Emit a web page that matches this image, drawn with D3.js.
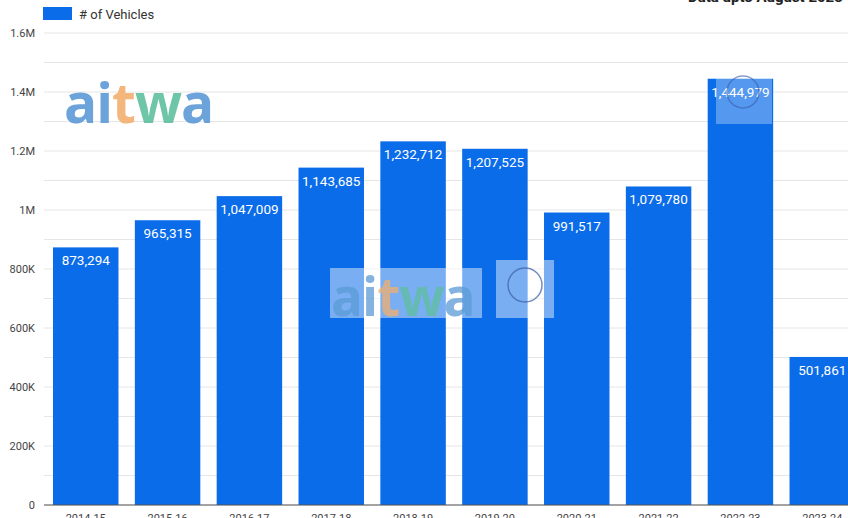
<!DOCTYPE html>
<html>
<head>
<meta charset="utf-8">
<script src="https://cdn.jsdelivr.net/npm/d3@7"></script>
<style>
  body { margin: 0; background: #fff; overflow: hidden; }
  text { font-family: Roboto, "Noto Sans", sans-serif; }
</style>
</head>
<body>
<div id="chart"></div>
<script>
const years = ["2014-15", "2015-16", "2016-17", "2017-18", "2018-19", "2019-20", "2020-21", "2021-22", "2022-23", "2023-24"];
const vehicles = [873294, 965315, 1047009, 1143685, 1232712, 1207525, 991517, 1079780, 1444979, 501861];
const yTicks = [0, 200000, 400000, 600000, 800000, 1000000, 1200000, 1400000, 1600000];
const yTickLabels = ["0", "200K", "400K", "600K", "800K", "1M", "1.2M", "1.4M", "1.6M"];

const W = 848, H = 518;
const margin = { top: 33, left: 44, bottom: 13 };
const plotRight = 864; // the chart is cropped on the right

const svg = d3.select("#chart").append("svg")
  .attr("width", W).attr("height", H);

const x = d3.scaleBand()
  .domain(years)
  .range([margin.left, plotRight])
  .paddingInner(0.2)
  .paddingOuter(0.11);

const y = d3.scaleLinear()
  .domain([0, 1600000])
  .range([H - margin.bottom, margin.top]);

// gridlines (every 100K)
const grid = d3.range(0, 1600001, 100000);
svg.append("g").selectAll("line")
  .data(grid).enter().append("line")
  .attr("x1", margin.left).attr("x2", W)
  .attr("y1", d => y(d)).attr("y2", d => y(d))
  .attr("stroke", "#e6e6e6").attr("stroke-width", 1);

// y axis labels
const yAxis = svg.append("g")
  .attr("transform", `translate(${margin.left},0)`)
  .call(d3.axisLeft(y).tickValues(yTicks).tickSize(0).tickPadding(9)
    .tickFormat((d, i) => yTickLabels[i]));
yAxis.select(".domain").remove();
yAxis.selectAll("text").attr("fill", "#444").style("font-size", "11px");

// bars
svg.append("g").selectAll("rect")
  .data(vehicles).enter().append("rect")
  .attr("x", (d, i) => x(years[i]))
  .attr("y", d => y(d))
  .attr("width", x.bandwidth())
  .attr("height", d => y(0) - y(d))
  .attr("fill", "#0b6ce9");

// value labels
svg.append("g").selectAll("text")
  .data(vehicles).enter().append("text")
  .attr("x", (d, i) => x(years[i]) + x.bandwidth() / 2)
  .attr("y", d => y(d) + 18)
  .attr("text-anchor", "middle")
  .attr("fill", "#fff")
  .style("font-size", "13.5px")
  .text(d => d3.format(",")(d));

// baseline
svg.append("line")
  .attr("x1", margin.left).attr("x2", W)
  .attr("y1", y(0)).attr("y2", y(0))
  .attr("stroke", "#555").attr("stroke-width", 1.2);

// x axis labels (cropped at bottom)
const xAxis = svg.append("g")
  .attr("transform", `translate(0,${y(0)})`)
  .call(d3.axisBottom(x).tickSize(0).tickPadding(9));
xAxis.select(".domain").remove();
xAxis.selectAll("text").attr("fill", "#444").style("font-size", "11px");

// legend
svg.append("rect").attr("x", 43).attr("y", 7).attr("width", 29).attr("height", 13).attr("fill", "#0b6ce9");
svg.append("text").attr("x", 79).attr("y", 19).attr("fill", "#333")
  .style("font-size", "13px").text("# of Vehicles");

// top-right note (cropped)
svg.append("text").attr("x", 688).attr("y", 2).attr("fill", "#222")
  .style("font-size", "15px").style("font-weight", "bold").text("Data upto August 2023");

// watermark helper
function aitwa(g, x0, yb, size, op) {
  const t = g.append("text").attr("x", x0).attr("y", yb)
    .style("font-size", size + "px").style("font-weight", "bold")
    .style("font-family", "'Open Sans', Roboto, sans-serif")
    .attr("opacity", op).attr("letter-spacing", -1);
  [["ai", "#5b9ad6"], ["t", "#f2b070"], ["w", "#5fbf9f"], ["a", "#5b9ad6"]].forEach(([s, c]) =>
    t.append("tspan").attr("fill", c).text(s));
  return t;
}
const wm = svg.append("g");
aitwa(wm, 64, 123, 55, 0.9);
wm.append("rect").attr("x", 330).attr("y", 268).attr("width", 152).attr("height", 50)
  .attr("fill", "#fff").attr("opacity", 0.45);
aitwa(wm, 331, 316, 53, 0.75);
wm.append("rect").attr("x", 496).attr("y", 260).attr("width", 58).attr("height", 58)
  .attr("fill", "#fff").attr("opacity", 0.45);
wm.append("circle").attr("cx", 525).attr("cy", 285).attr("r", 17)
  .attr("fill", "none").attr("stroke", "#3a5ea8").attr("stroke-width", 1.5).attr("opacity", 0.7);
wm.append("rect").attr("x", 716).attr("y", 70).attr("width", 56).attr("height", 54)
  .attr("fill", "#fff").attr("opacity", 0.3);
wm.append("circle").attr("cx", 743).attr("cy", 92).attr("r", 16)
  .attr("fill", "none").attr("stroke", "#3a5ea8").attr("stroke-width", 1.5).attr("opacity", 0.6);
</script>
</body>
</html>
